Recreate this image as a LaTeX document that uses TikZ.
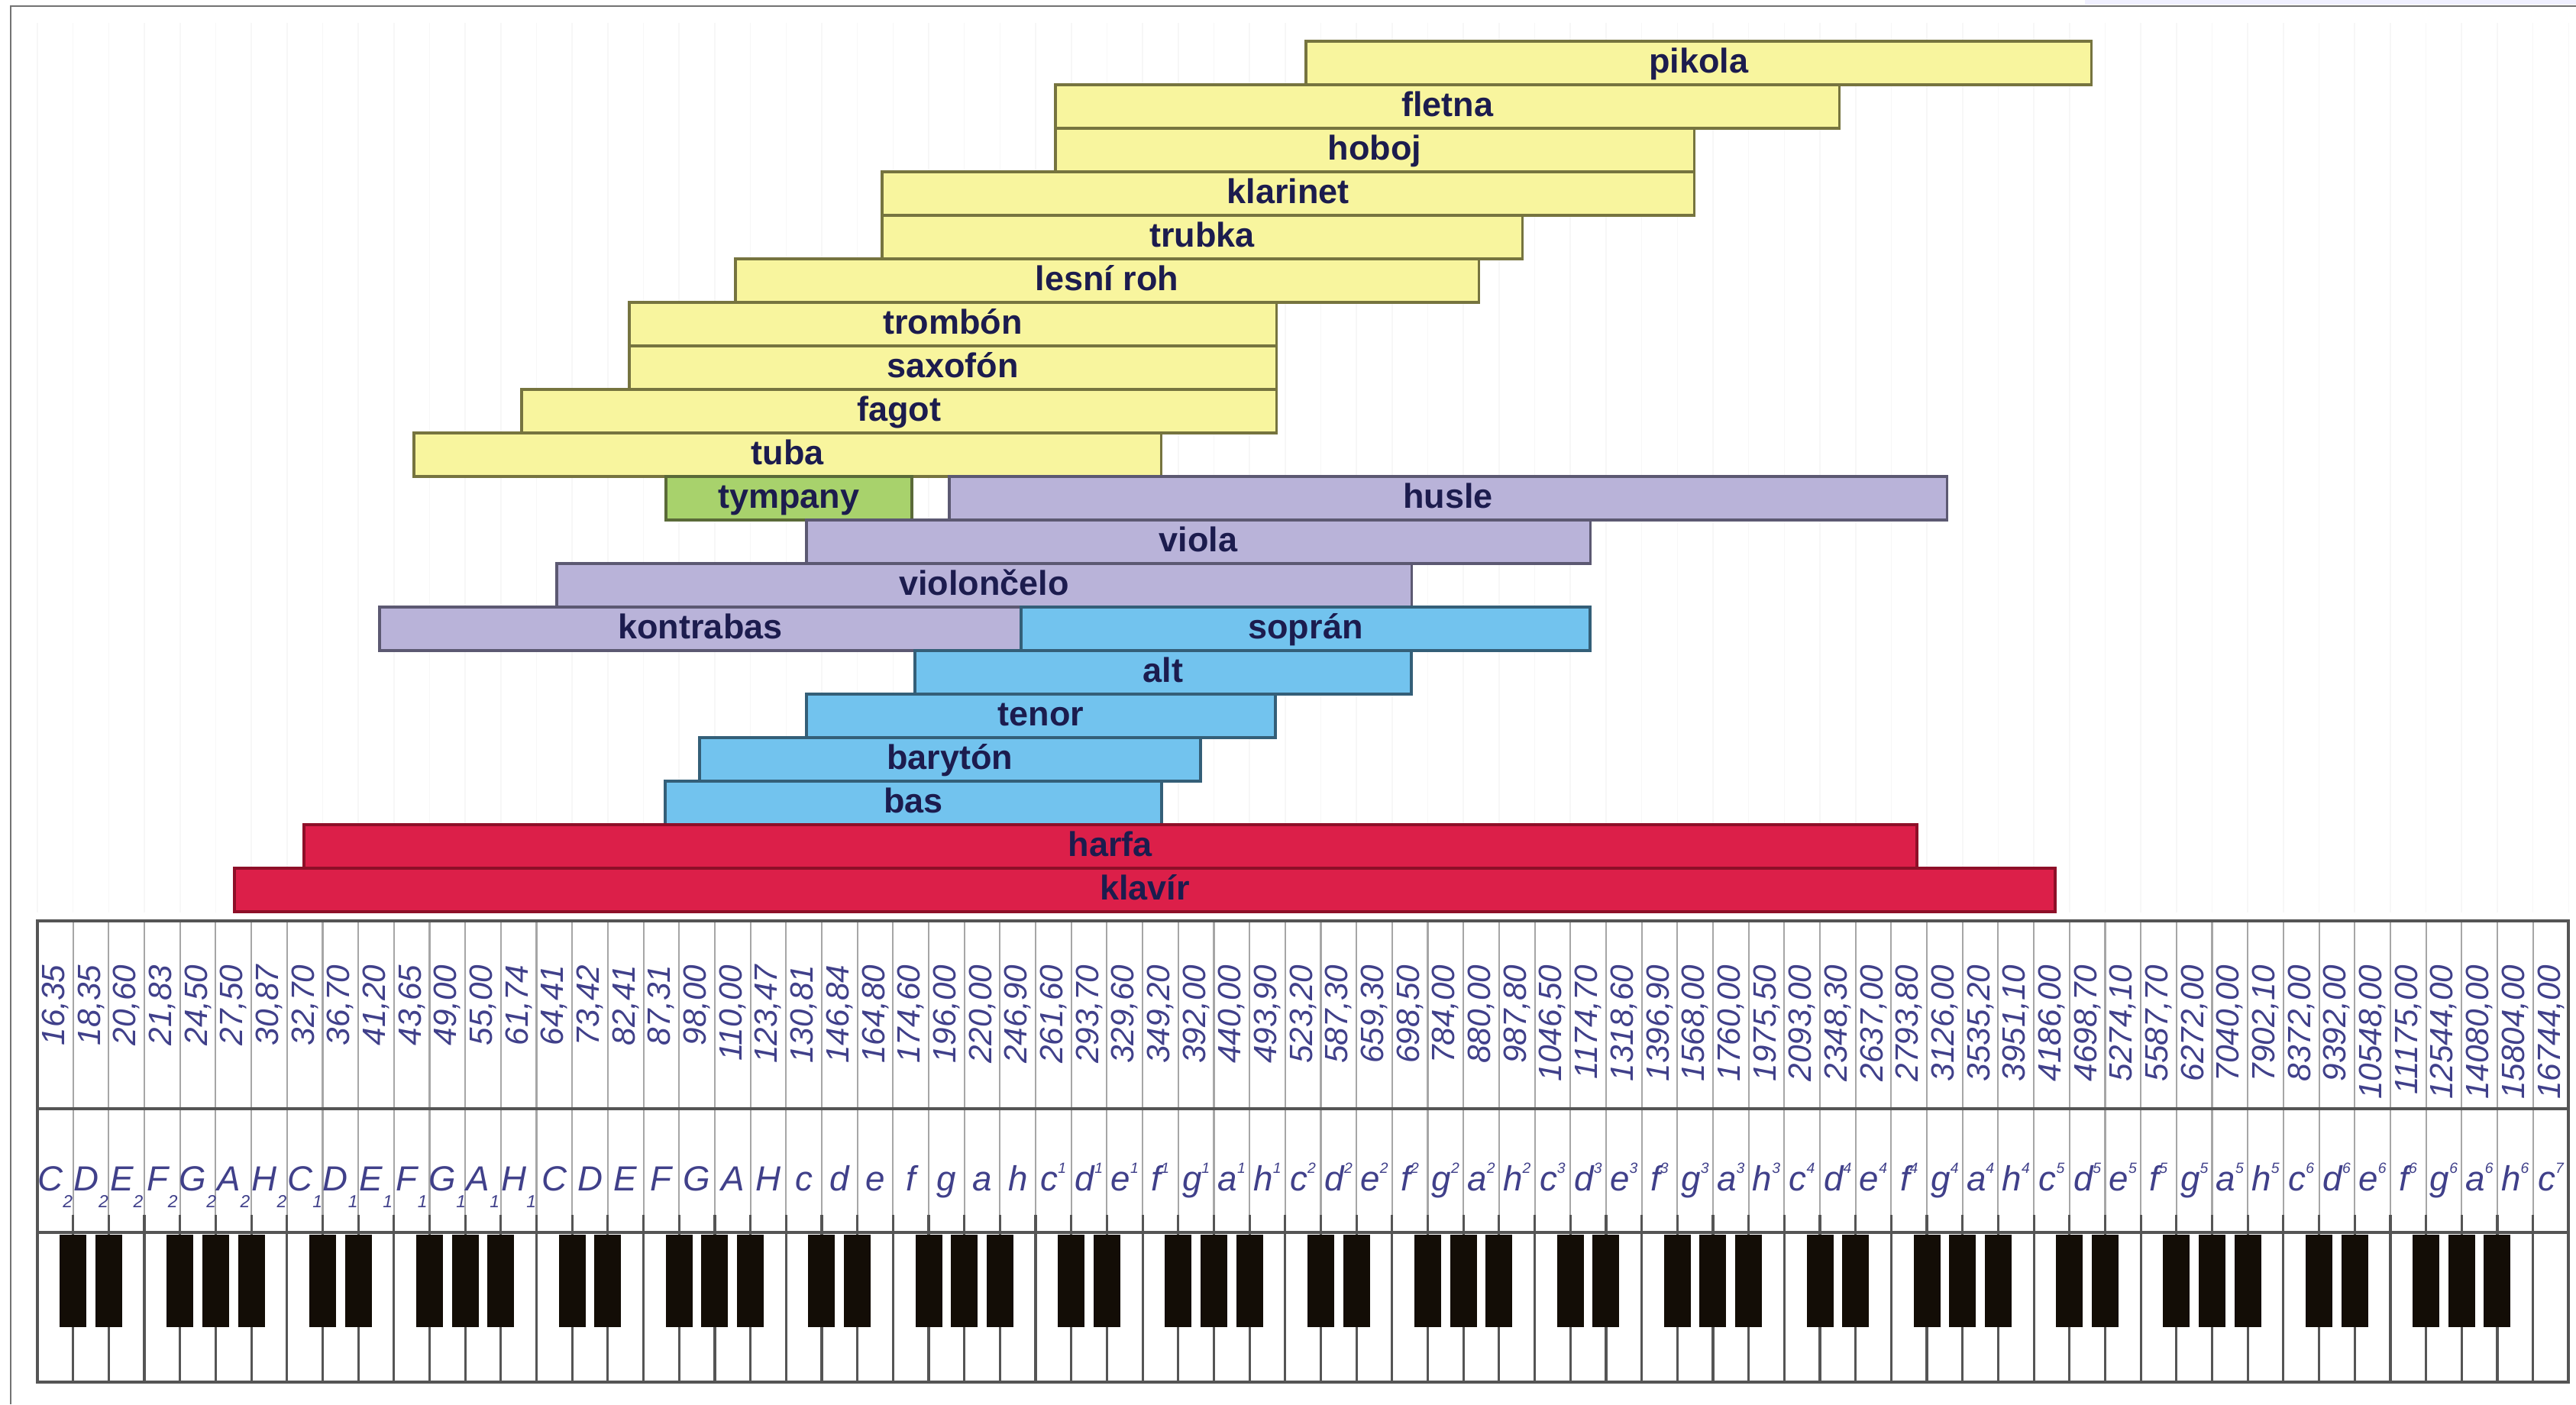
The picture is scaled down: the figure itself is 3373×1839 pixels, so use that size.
\documentclass[tikz,border=0pt]{standalone}
\usepackage{fontspec}
\setmainfont{Liberation Sans}

\definecolor{brassfill}{HTML}{F8F59E}
\definecolor{brassdraw}{HTML}{76743F}
\definecolor{drumfill}{HTML}{A8D26C}
\definecolor{drumdraw}{HTML}{5A6A38}
\definecolor{stringfill}{HTML}{B9B3D9}
\definecolor{stringdraw}{HTML}{5C5972}
\definecolor{voicefill}{HTML}{72C3EE}
\definecolor{voicedraw}{HTML}{345F78}
\definecolor{keysfill}{HTML}{DC1F49}
\definecolor{keysdraw}{HTML}{8E0F28}
\definecolor{labelnavy}{HTML}{1C1C4E}
\definecolor{numblue}{HTML}{40408A}
\definecolor{gridgray}{HTML}{555555}

\newcommand\octlo[1]{\raisebox{-0.5em}{\fontsize{6.5}{6.5}\selectfont #1}}
\newcommand\octhi[1]{\raisebox{0.5em}{\fontsize{5.5}{5.5}\selectfont #1}}

\tikzset{
  instr/.style={draw, line width=1pt, inner sep=0pt, anchor=north west,
    minimum height=0.57cm, text height=0.73em, text depth=0pt,
    font=\fontsize{12.8}{15}\selectfont\bfseries, text=labelnavy},
  brassbar/.style={instr, fill=brassfill, draw=brassdraw},
  drumbar/.style={instr, fill=drumfill, draw=drumdraw},
  stringbar/.style={instr, fill=stringfill, draw=stringdraw},
  voicebar/.style={instr, fill=voicefill, draw=voicedraw},
  keysbar/.style={instr, fill=keysfill, draw=keysdraw},
  freq/.style={rotate=90, anchor=east, inner sep=0pt, text=numblue,
    font=\fontsize{12}{14}\selectfont\itshape},
  notename/.style={anchor=base, inner sep=0pt, text=numblue,
    font=\fontsize{13}{15}\selectfont\itshape},
  thinrule/.style={draw=gray!70, line width=0.6pt},
  keyrule/.style={draw=gridgray, line width=0.9pt},
  blackkey/.style={fill=black!90!brown},
  stripe/.style={draw=black!3, line width=0.45pt}
}

\begin{document}
\begin{tikzpicture}[x=0.01cm,y=-0.01cm]
  \useasboundingbox (0,0) rectangle (3373,1839);
  \fill[white] (0,0) rectangle (3373,1839);
  \fill[blue!6] (2730,0) rectangle (3373,6);
  \draw[draw=black!55, line width=0.7pt] (14,1839) -- (14,8) -- (3373,8);
  %
  \foreach \k in {0,...,71}
    \draw[stripe] ({49+\k*46.68},30) -- ({49+\k*46.68},1195);
  %
  % wind instruments
  \node[brassbar, minimum width=10.28cm] (pikola) at (1708,52) {pikola};
  \node[brassbar, minimum width=10.26cm] (fletna) at (1380,109) {fletna};
  \node[brassbar, minimum width=8.36cm] (hoboj) at (1380,166) {hoboj};
  \node[brassbar, minimum width=10.63cm] (klarinet) at (1153,223) {klarinet};
  \node[brassbar, minimum width=8.38cm] (trubka) at (1153,280) {trubka};
  \node[brassbar, minimum width=9.73cm] (lesniroh) at (961,337) {lesní roh};
  \node[brassbar, minimum width=8.47cm] (trombon) at (822,394) {trombón};
  \node[brassbar, minimum width=8.47cm] (saxofon) at (822,451) {saxofón};
  \node[brassbar, minimum width=9.88cm] (fagot) at (681,508) {fagot};
  \node[brassbar, minimum width=9.78cm] (tuba) at (540,565) {tuba};
  %
  % drums and strings
  \node[drumbar, minimum width=3.22cm] (tympany) at (870,622) {tympany};
  \node[stringbar, minimum width=13.06cm] (husle) at (1241,622) {husle};
  \node[stringbar, minimum width=10.26cm] (viola) at (1054,679) {viola};
  \node[stringbar, minimum width=11.19cm] (violoncelo) at (727,736) {violončelo};
  \node[stringbar, minimum width=8.40cm] (kontrabas) at (495,793) {kontrabas};
  %
  % voices
  \node[voicebar, minimum width=7.45cm] (sopran) at (1335,793) {soprán};
  \node[voicebar, minimum width=6.50cm] (alt) at (1196,850) {alt};
  \node[voicebar, minimum width=6.14cm] (tenor) at (1054,907) {tenor};
  \node[voicebar, minimum width=6.56cm] (baryton) at (914,964) {barytón};
  \node[voicebar, minimum width=6.50cm] (bas) at (869,1021) {bas};
  %
  % harp and piano
  \node[keysbar, minimum width=21.11cm] (harfa) at (396,1078) {harfa};
  \node[keysbar, minimum width=23.83cm] (klavir) at (305,1135) {klavír};
  %
  % table and keyboard
  \fill[white] (49,1206) rectangle (3363,1810);
  \foreach \k in {1,...,70}
    \draw[thinrule] ({49+\k*46.68},1206) -- ({49+\k*46.68},1591);
  \foreach \k in {1,...,70}
    \draw[keyrule] ({49+\k*46.68},1591) -- ({49+\k*46.68},1810);
  \draw[keyrule] (49,1452) -- (3363,1452);
  \draw[keyrule] (49,1614) -- (3363,1614);
  \foreach \k in {0,...,69} {
    \pgfmathtruncatemacro\m{mod(\k,7)}
    \ifnum\m=2\relax\else\ifnum\m=6\relax\else
      \fill[blackkey] ({49+(\k+1)*46.68-17.5},1617) rectangle ++(35,121);
    \fi\fi
  }
  \draw[keyrule] (49,1206) rectangle (3363,1810);
  %
  % frequencies
  \foreach \f [count=\i from 0] in {{16,35},{18,35},{20,60},{21,83},{24,50},{27,50},{30,87},
      {32,70},{36,70},{41,20},{43,65},{49,00},{55,00},{61,74},
      {64,41},{73,42},{82,41},{87,31},{98,00},{110,00},{123,47},
      {130,81},{146,84},{164,80},{174,60},{196,00},{220,00},{246,90},
      {261,60},{293,70},{329,60},{349,20},{392,00},{440,00},{493,90},
      {523,20},{587,30},{659,30},{698,50},{784,00},{880,00},{987,80},
      {1046,50},{1174,70},{1318,60},{1396,90},{1568,00},{1760,00},{1975,50},
      {2093,00},{2348,30},{2637,00},{2793,80},{3126,00},{3535,20},{3951,10},
      {4186,00},{4698,70},{5274,10},{5587,70},{6272,00},{7040,00},{7902,10},
      {8372,00},{9392,00},{10548,00},{11175,00},{12544,00},{14080,00},{15804,00},
      {16744,00}}
    \node[freq] (f\i) at ({49+(\i+0.5)*46.68},1263) {\f};
  %
  % note names
  \foreach \o/\s in {2/0,1/7}
    \foreach \n [count=\j from 0] in {C,D,E,F,G,A,H}
      \node[notename] (n\o\n) at ({49+(\s+\j+0.5)*46.68},1559) {\n\octlo{\o}};
  \foreach \n [count=\j from 14] in {C,D,E,F,G,A,H,c,d,e,f,g,a,h}
    \node[notename] (n\j) at ({49+(\j+0.5)*46.68},1559) {\n};
  \foreach \o in {1,...,6}
    \foreach \n [count=\j from 0] in {c,d,e,f,g,a,h}
      \node[notename] (n\o\n) at ({49+(21+7*\o+\j+0.5)*46.68},1559) {\n\octhi{\o}};
  \node[notename] (n7c) at ({49+70.5*46.68},1559) {c\octhi{7}};
\end{tikzpicture}
\end{document}
